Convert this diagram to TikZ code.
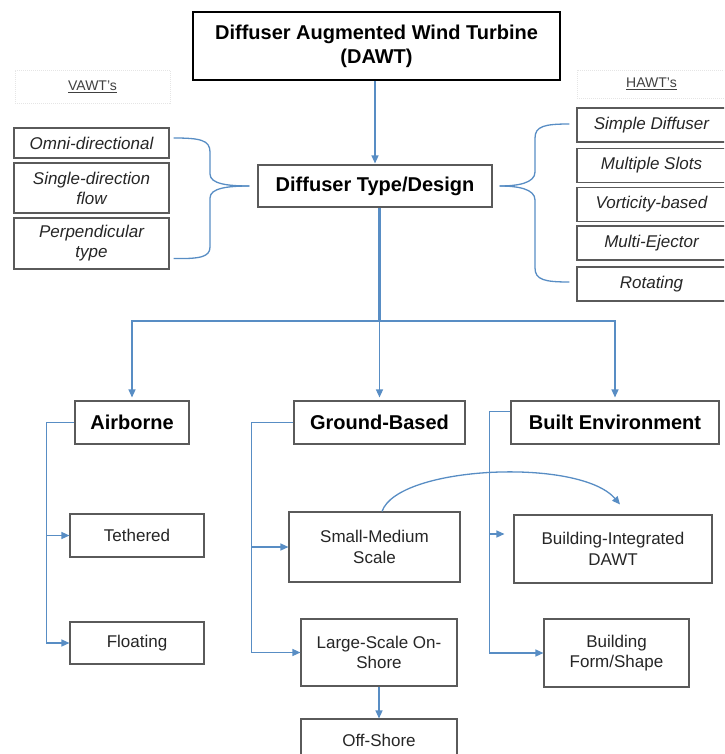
\documentclass[tikz,border=0pt]{standalone}
\usepackage{fontspec}
\setmainfont{Liberation Sans}
\usetikzlibrary{arrows.meta}
\usetikzlibrary{calc}

\definecolor{linkblue}{RGB}{88,141,196}
\definecolor{boxgray}{RGB}{90,90,90}

\begin{document}
\begin{tikzpicture}[
        x=1pt, y=-1pt,
        box/.style={draw=boxgray, line width=1.1pt, fill=white, align=center, inner sep=0pt, text=black!85},
        headbox/.style={box, font=\fontsize{20}{24}\selectfont\bfseries, text=black},
        subbox/.style={box, font=\fontsize{17}{20.5}\selectfont},
        typebox/.style={box, font=\fontsize{17}{20}\selectfont\itshape},
        tagbox/.style={draw=black!10, dash pattern=on 1pt off 1pt, font=\fontsize{14}{16}\selectfont, text=black!75},
        link/.style={draw=linkblue, line width=1.3pt},
        linkarrow/.style={link, -{Triangle[length=8pt, width=7pt]}},
        trunk/.style={draw=linkblue, line width=3pt},
    ]
        \useasboundingbox (0,0) rectangle (724,754);
        \clip (0,0) rectangle (724,754);

        % --- Kopf und Diffusor ---
        \node[headbox, draw=black, line width=1.8pt, minimum width=367pt, minimum height=68pt] (dawt) at (376.5,46) {Diffuser Augmented Wind Turbine\\(DAWT)};
        \node[headbox, minimum width=234pt, minimum height=42pt] (design) at (375,186) {Diffuser Type/Design};

        % --- Beschriftungen ---
        \node[tagbox, minimum width=155pt, minimum height=33pt] (vawt) at (92.5,86.5) {\underline{VAWT's}};
        \node[tagbox, minimum width=149pt, minimum height=28pt] (hawt) at (651.5,84) {\underline{HAWT's}};

        % --- VAWT-Typen ---
        \foreach \nm/\yy/\hh/\txt in {omni/143/30/Omni-directional, single/188/50/{Single-direction\\flow}, perp/243.5/51/{Perpendicular\\type}} {
            \node[typebox, minimum width=155pt, minimum height=\hh pt] (\nm) at (91.5,\yy) {\txt};
        }

        % --- HAWT-Typen ---
        \foreach \nm/\yy/\txt in {simple/125/Simple Diffuser, slots/165.5/Multiple Slots, vort/204.5/Vorticity-based, eject/243/Multi-Ejector, rot/284/Rotating} {
            \node[typebox, minimum width=149pt, minimum height=34pt] (\nm) at (651.5,\yy) {\txt};
        }

        % --- Klammern ---
        \coordinate (vtip) at ($(design.west)+(-8,0)$);
        \coordinate (vtop) at ($(omni.east)+(4,-5)$);
        \coordinate (vbot) at ($(perp.east)+(4,15)$);
        \draw[link] (vtop) .. controls (200,138) and (210,140) .. (210,152) -- (210,174)
            .. controls (210,184) and (228,186) .. (vtip);
        \draw[link] (vtip) .. controls (228,186) and (210,188) .. (210,198) -- (210,247)
            .. controls (210,257) and (200,259) .. (vbot);

        \coordinate (htip) at ($(design.east)+(7,0)$);
        \coordinate (htop) at ($(simple.west)+(-7,-1)$);
        \coordinate (hbot) at ($(rot.west)+(-7,-2)$);
        \draw[link] (htop) .. controls (545,124) and (535,126) .. (535,138) -- (535,172)
            .. controls (535,183) and (518,186) .. (htip);
        \draw[link] (htip) .. controls (518,186) and (535,189) .. (535,200) -- (535,268)
            .. controls (535,280) and (545,282) .. (hbot);

        % --- Kategorien ---
        \node[headbox, minimum width=114pt, minimum height=43pt] (air) at (132,422.5) {Airborne};
        \node[headbox, minimum width=171pt, minimum height=43pt] (ground) at (379.5,422.5) {Ground-Based};
        \node[headbox, minimum width=208pt, minimum height=43pt] (built) at (615,422.5) {Built Environment};

        % --- Unterkategorien ---
        \node[subbox, minimum width=134pt, minimum height=43pt] (tether) at (137,535.5) {Tethered};
        \node[subbox, minimum width=134pt, minimum height=42pt] (float) at (137,643) {Floating};
        \node[subbox, minimum width=171pt, minimum height=70pt] (small) at (374.5,547) {Small-Medium\\Scale};
        \node[subbox, minimum width=156pt, minimum height=67pt] (large) at (379,652.5) {Large-Scale On-\\Shore};
        \node[subbox, minimum width=156pt, minimum height=43pt] (off) at (379,740.5) {Off-Shore};
        \node[subbox, minimum width=198pt, minimum height=68pt] (integ) at (613,549) {Building-Integrated\\DAWT};
        \node[subbox, minimum width=145pt, minimum height=68pt] (form) at (616.5,653) {Building\\Form/Shape};

        % --- Verbindungen oben ---
        \draw[linkarrow, shorten >=1pt] (design.north |- dawt.south) -- (design.north);
        \coordinate (hub) at (ground.north |- 0,321);
        \draw[trunk] (hub |- design.south) -- (hub);
        \draw[linkarrow, shorten >=3pt] (hub) -| (air);
        \draw[linkarrow, shorten >=3pt] (hub) -- (ground);
        \draw[linkarrow, shorten >=3pt] (hub) -| (built);

        % --- Verbindungen unten ---
        \coordinate (airbus) at ($(air.west)+(-28,0)$);
        \draw[linkarrow] (air.west) -- (airbus) |- (float);
        \draw[linkarrow] (airbus |- tether) -- (tether);

        \coordinate (gbus) at ($(ground.west)+(-42,0)$);
        \draw[linkarrow] (ground.west) -- (gbus) |- (large);
        \draw[linkarrow] (gbus |- small) -- (small);
        \draw[linkarrow] (large) -- (off);

        \coordinate (bstart) at ($(built.north west)!0.25!(built.south west)$);
        \coordinate (bbus) at ($(bstart)+(-21,0)$);
        \draw[linkarrow] (bstart) -- (bbus) |- (form);
        \coordinate (bstub) at ($(bbus |- integ.west)+(15,-15)$);
        \draw[linkarrow] (bbus |- bstub) -- (bstub);

        \coordinate (arcend) at ($(integ.north)+(7,-10)$);
        \draw[linkarrow] ([xshift=7.5pt]small.north) .. controls +(16,-46) and +(-40,-47) .. (arcend);
    \end{tikzpicture}
\end{document}
